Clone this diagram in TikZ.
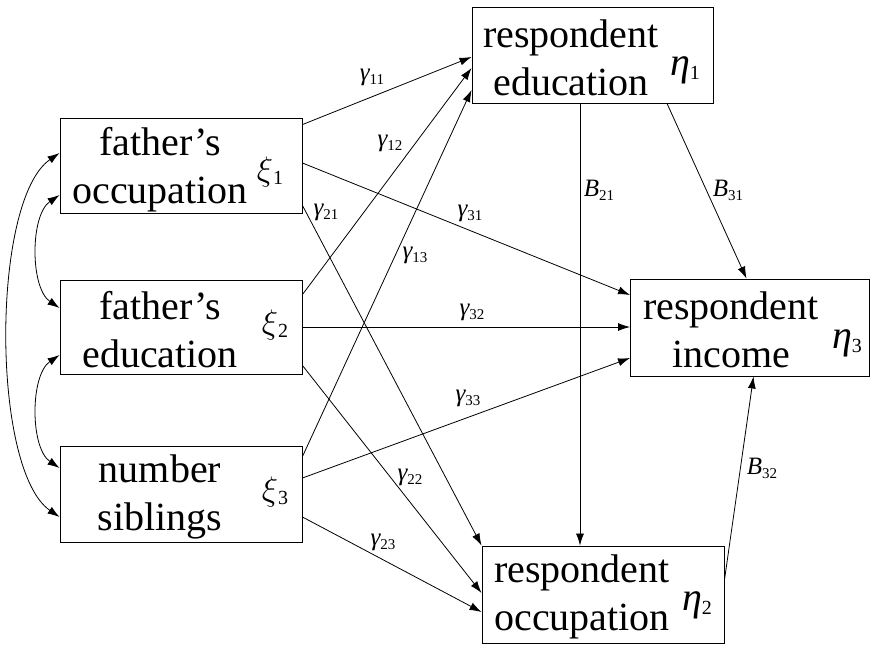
\RequirePackage{fix-cm}
\documentclass[tikz,border=0pt]{standalone}
\usepackage{fontspec}
\setmainfont{Liberation Serif}
\usetikzlibrary{arrows.meta}
\newcommand{\coefsub}[2]{{\itshape #1}\raisebox{-0.35ex}{\fontsize{15}{15}\selectfont #2}}
\newcommand{\latsub}[2]{{\itshape #1}\raisebox{-0.25ex}{\fontsize{20}{20}\selectfont #2}}
\newcommand{\xisub}[1]{$\xi$\raisebox{-0.25ex}{\fontsize{20}{20}\selectfont #1}}
\tikzset{
  box/.style={draw, line width=0.9pt, minimum width=242pt, minimum height=96pt, inner sep=0pt},
  boxtext/.style={font=\fontsize{40}{48}\selectfont, align=center, inner sep=0pt},
  latent/.style={font=\fontsize{40}{40}\selectfont, inner sep=0pt},
  coef/.style={font=\fontsize{25}{25}\selectfont, inner sep=0pt},
  link/.style={-{Latex[length=12pt,width=8pt]}, line width=0.8pt},
  dbl/.style={{Latex[length=12pt,width=8pt]}-{Latex[length=12pt,width=8pt]}, line width=0.8pt}
}
\begin{document}
\begin{tikzpicture}[x=1pt,y=-1pt]
\useasboundingbox (0,0) rectangle (871,646);
% boxes
\node[box, minimum height=95pt] (x1) at (181,165.5) {};
\node[box, minimum height=94pt] (x2) at (181,327) {};
\node[box] (x3) at (181,494) {};
\node[box, minimum width=241pt] (e1) at (592.5,55) {};
\node[box, minimum width=239pt, minimum height=97pt] (e3) at (750,327.5) {};
\node[box, minimum height=97pt] (e2) at (603,594.5) {};
% box texts
\node[boxtext] (x1t) at (160,170) {father's\\occupation};
\node[boxtext] (x2t) at (160,330) {father's\\education};
\node[boxtext] (x3t) at (160,497) {number\\siblings};
\node[boxtext] (e1t) at (571,58) {respondent\\education};
\node[boxtext] (e3t) at (731,330) {respondent\\income};
\node[boxtext] (e2t) at (582,597) {respondent\\occupation};
% latent labels
\node[latent, font=\fontsize{34}{34}\selectfont] (x1l) at (270,172) {\xisub{1}};
\node[latent, font=\fontsize{34}{34}\selectfont] (x2l) at (275,325) {\xisub{2}};
\node[latent, font=\fontsize{34}{34}\selectfont] (x3l) at (275,492) {\xisub{3}};
\node[latent] (e1l) at (685,70) {\latsub{η}{1}};
\node[latent] (e2l) at (697,605) {\latsub{η}{2}};
\node[latent] (e3l) at (847,343) {\latsub{η}{3}};
% paths
\draw[link] ([yshift=-7pt]x1.north east) -- ([yshift=-2pt]e1.west);
\draw[link] ([yshift=-15pt]x2.north east) -- ([yshift=-13pt]e1.west);
\draw[link] ([yshift=-11pt]x3.north east) -- ([yshift=-35pt]e1.west);
\draw[link] ([yshift=2.5pt]x1.east) -- ([yshift=32.5pt]e3.west);
\draw[link] (x2.east) -- (x2.east -| e3.west);
\draw[link] ([yshift=16pt]x3.east) -- ([yshift=-30.5pt]e3.west);
\draw[link] ([yshift=8pt]x1.south east) -- (e2.north west);
\draw[link] ([yshift=9pt]x2.south east) -- ([yshift=1.5pt]e2.west);
\draw[link] ([yshift=-23pt]x3.east) -- ([yshift=-17.5pt]e2.west);
\draw[link] ([xshift=-12.5pt]e1.south) -- ([xshift=-23pt]e2.north);
\draw[link] ([xshift=74.5pt]e1.south) -- ([xshift=-3.5pt]e3.north);
\draw[link] ([yshift=14.5pt]e2.east) -- ([xshift=3.5pt]e3.south);
% correlations
\draw[dbl] ([yshift=-29.5pt]x1.west) .. controls (30,215) and (30,288) .. ([yshift=19pt]x2.west);
\draw[dbl] ([yshift=-28pt]x2.west) .. controls (30,375) and (30,448) .. ([yshift=26pt]x3.west);
\draw[dbl] ([yshift=12.5pt]x1.west) .. controls (-9,200) and (-9,470) .. ([yshift=-23pt]x3.west);
% coefficient labels
\node[coef] (g11) at (372,77) {\coefsub{γ}{11}};
\node[coef] (g12) at (390,143) {\coefsub{γ}{12}};
\node[coef] (g13) at (415,255) {\coefsub{γ}{13}};
\node[coef] (g21) at (326,212) {\coefsub{γ}{21}};
\node[coef] (g31) at (470,213) {\coefsub{γ}{31}};
\node[coef] (g32) at (472,312) {\coefsub{γ}{32}};
\node[coef] (g33) at (468,398) {\coefsub{γ}{33}};
\node[coef] (g22) at (410,477) {\coefsub{γ}{22}};
\node[coef] (g23) at (383,542) {\coefsub{γ}{23}};
\node[coef] (b21) at (599,190) {\coefsub{B}{21}};
\node[coef] (b31) at (728,190) {\coefsub{B}{31}};
\node[coef] (b32) at (762,468) {\coefsub{B}{32}};
\end{tikzpicture}
\end{document}
